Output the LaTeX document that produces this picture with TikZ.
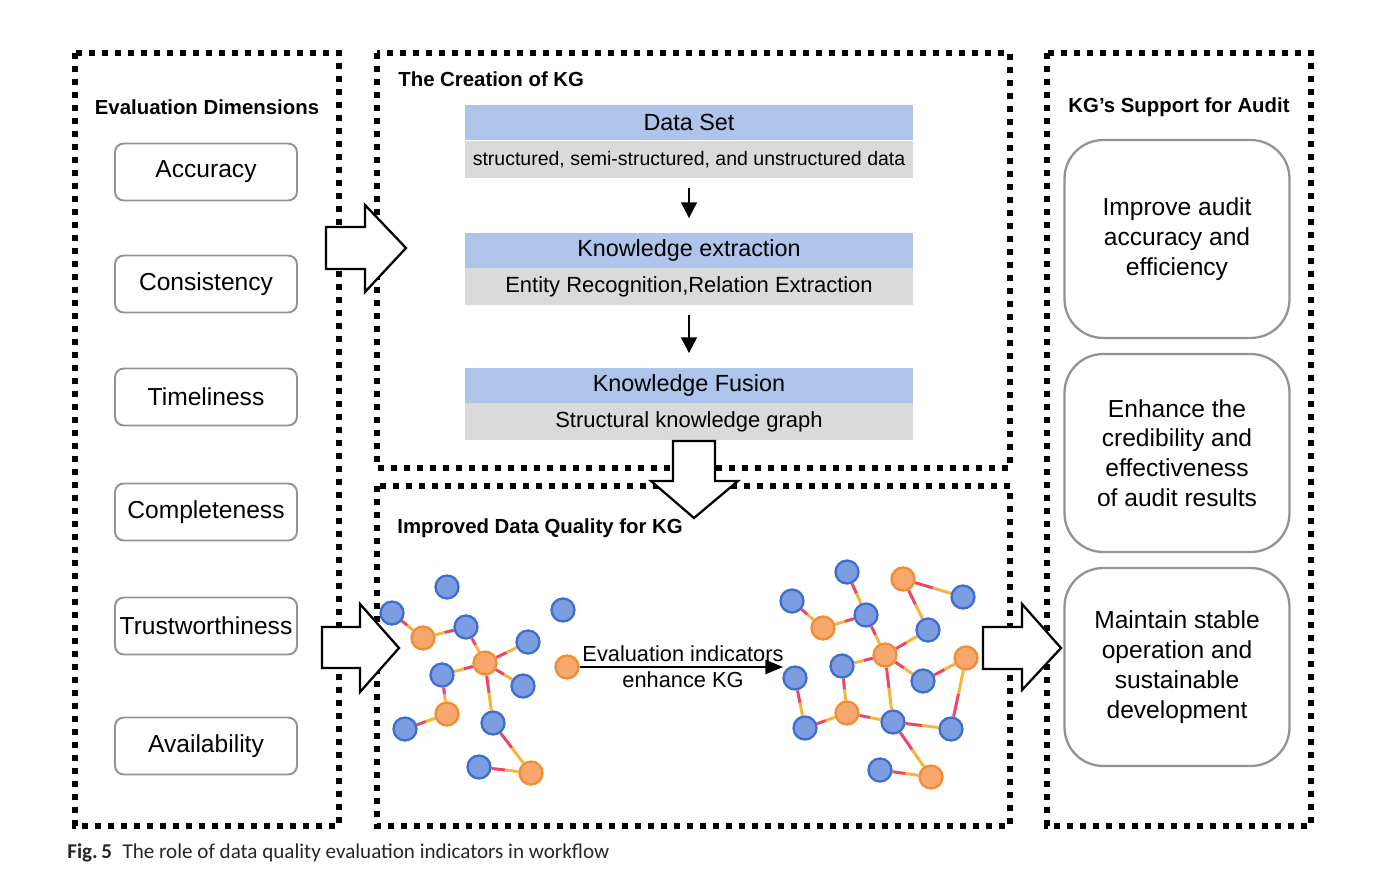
\documentclass[tikz,border=0pt]{standalone}
\usepackage{fontspec}
\setmainfont{Liberation Sans}
\newfontfamily\capfont{Carlito}
\usepackage{tikz}
\usetikzlibrary{arrows.meta,calc,positioning,backgrounds}

\definecolor{bandblue}{HTML}{AFC4EA}
\definecolor{bandgray}{HTML}{DADADA}
\definecolor{kgblue}{HTML}{7C9DE0}
\definecolor{kgblueline}{HTML}{3C6ED2}
\definecolor{kgorange}{HTML}{F8A86E}
\definecolor{kgorangeline}{HTML}{F08C32}
\definecolor{edgered}{HTML}{EE4565}
\definecolor{edgeamber}{HTML}{F6B43A}

\tikzset{
  frame/.style={line width=3.5pt, dash pattern=on 3.5pt off 3.9pt},
  paneltitle/.style={font=\fontsize{11.6}{14}\selectfont\bfseries, inner sep=0pt},
  dimbox/.style={draw=gray!85, rounded corners=5pt, line width=1.1pt, inner sep=1pt,
    minimum width=3.64cm, minimum height=1.14cm, font=\fontsize{14}{17}\selectfont},
  supbox/.style={draw=gray!85, rounded corners=22pt, line width=1.3pt, align=center,
    minimum width=4.5cm, minimum height=3.96cm, font=\fontsize{14}{17}\selectfont},
  headband/.style={fill=bandblue, minimum width=8.96cm, minimum height=0.7cm, inner sep=0pt,
    font=\fontsize{13.3}{16}\selectfont},
  subband/.style={fill=bandgray, minimum width=8.96cm, minimum height=0.74cm, inner sep=0pt,
    font=\fontsize{12.5}{15}\selectfont},
  bnode/.style={circle, fill=kgblue, draw=kgblueline, line width=1.3pt, minimum size=0.46cm, inner sep=0pt},
  onode/.style={circle, fill=kgorange, draw=kgorangeline, line width=1.3pt, minimum size=0.46cm, inner sep=0pt},
  hollow/.style={draw, line width=1.3pt, fill=white, line join=miter},
  smallarrow/.style={-{Triangle[length=9pt,width=9pt]}, line width=1.1pt, shorten <=5.5pt, shorten >=8pt},
}

% edge of the graph: red half, amber half
\newcommand{\kgedge}[2]{%
  \draw[edgered, line width=1.7pt] (#1) -- ($(#1)!0.5!(#2)$);
  \draw[edgeamber, line width=1.7pt] ($(#1)!0.5!(#2)$) -- (#2);}

\begin{document}
\begin{tikzpicture}[x=0.02cm, y=-0.02cm]
  \useasboundingbox (0,0) rectangle (1386,893);

  % Dotted panels
  \draw[frame] (75,53) rectangle (339,826);
  \draw[frame] (377,53) rectangle (1010,468);
  \draw[frame] (377,486) rectangle (1010,826);
  \draw[frame] (1047,53) rectangle (1311,826);

  % Left panel: evaluation dimensions
  \node[paneltitle] (dimtitle) at (207,107) {Evaluation Dimensions};
  \node[dimbox] (acc) at (206,172) {Accuracy};
  \node[dimbox] (con) at (206,284) {Consistency};
  \node[dimbox] (tim) at (206,397) {Timeliness};
  \node[dimbox] (com) at (206,512) {Completeness};
  \node[dimbox] (tru) at (206,626) {Trustworthiness};
  \node[dimbox] (ava) at (206,746) {Availability};

  % Middle top panel: creation of the KG
  \node[paneltitle, anchor=west] (createtitle) at (398,79) {The Creation of KG};
  \node[headband] (dsh) at (689,122.5) {Data Set};
  \node[subband, below=0pt of dsh, font=\fontsize{11.1}{13}\selectfont] (dsb)
    {structured, semi-structured, and unstructured data};
  \node[headband] (keh) at (689,250) {Knowledge extraction};
  \node[subband, below=0pt of keh] (keb) {Entity Recognition,Relation Extraction};
  \node[headband] (kfh) at (689,385) {Knowledge Fusion};
  \node[subband, below=0pt of kfh] (kfb) {Structural knowledge graph};
  \draw[smallarrow] (dsb.south) -- (keh.north);
  \draw[smallarrow] (keb.south) -- (kfh.north);

  % Middle bottom panel: improved data quality
  \node[paneltitle, anchor=west] (qualtitle) at (397,528) {Improved Data Quality for KG};
  % graph before
  \node[bnode] (a1) at (447,587) {};
  \node[bnode] (a2) at (392,613) {};
  \node[onode] (a3) at (423,638) {};
  \node[bnode] (a4) at (466,627) {};
  \node[bnode] (a5) at (563,610) {};
  \node[bnode] (a6) at (528,642) {};
  \node[onode] (a7) at (485,663) {};
  \node[bnode] (a8) at (442,675) {};
  \node[bnode] (a9) at (523,686) {};
  \node[onode] (a10) at (447,714) {};
  \node[bnode] (a11) at (405,729) {};
  \node[bnode] (a12) at (493,723) {};
  \node[bnode] (a13) at (479,767) {};
  \node[onode] (a14) at (531,773) {};
  \node[onode] (a15) at (567,667) {};
  % graph after
  \node[bnode] (b1) at (847,572) {};
  \node[onode] (b2) at (903,579) {};
  \node[bnode] (b3) at (792,601) {};
  \node[bnode] (b4) at (963,597) {};
  \node[bnode] (b5) at (866,615) {};
  \node[onode] (b6) at (823,628) {};
  \node[bnode] (b7) at (928,630) {};
  \node[onode] (b8) at (885,655) {};
  \node[bnode] (b9) at (842,666) {};
  \node[onode] (b10) at (966,658) {};
  \node[bnode] (b11) at (795,678) {};
  \node[bnode] (b12) at (923,681) {};
  \node[onode] (b13) at (847,713) {};
  \node[bnode] (b14) at (893,722) {};
  \node[bnode] (b15) at (805,728) {};
  \node[bnode] (b16) at (951,729) {};
  \node[bnode] (b17) at (880,770) {};
  \node[onode] (b18) at (931,777) {};
  \begin{scope}[on background layer]
    \kgedge{a2}{a3} \kgedge{a4}{a3} \kgedge{a4}{a7} \kgedge{a7}{a6}
    \kgedge{a7}{a8} \kgedge{a7}{a9} \kgedge{a7}{a12} \kgedge{a8}{a10}
    \kgedge{a11}{a10} \kgedge{a12}{a14} \kgedge{a13}{a14}
    \kgedge{b3}{b6} \kgedge{b5}{b6} \kgedge{b1}{b5} \kgedge{b5}{b8}
    \kgedge{b2}{b4} \kgedge{b2}{b7} \kgedge{b8}{b7} \kgedge{b8}{b9}
    \kgedge{b8}{b12} \kgedge{b8}{b14} \kgedge{b12}{b10} \kgedge{b16}{b10}
    \kgedge{b9}{b13} \kgedge{b11}{b15} \kgedge{b15}{b13} \kgedge{b13}{b14}
    \kgedge{b14}{b16} \kgedge{b14}{b18} \kgedge{b17}{b18}
  \end{scope}
  \coordinate (evtip) at (783,667);
  \draw[-{Triangle[length=10pt,width=8pt]}, line width=1.1pt] (a15) -- (evtip);
  \node[align=center, font=\fontsize{12.4}{15}\selectfont, inner sep=0pt] (evtext) at (683,667)
    {Evaluation indicators\\enhance KG};

  % Right panel: support for audit
  \node[paneltitle] (audittitle) at (1179,107) {KG’s Support for Audit};
  \node[supbox] (imp) at (1177,239) {Improve audit\\accuracy and\\efficiency};
  \node[supbox] (enh) at (1177,453) {Enhance the\\credibility and\\effectiveness\\of audit results};
  \node[supbox] (mai) at (1177,667) {Maintain stable\\operation and\\sustainable\\development};

  % Hollow block arrows between panels
  \draw[hollow] (326,227) -- (365,227) -- (365,205) -- (406,248) -- (365,292) -- (365,269) -- (326,269) -- cycle;
  \draw[hollow] (322,627) -- (360,627) -- (360,604) -- (399,648) -- (360,692) -- (360,668) -- (322,668) -- cycle;
  \draw[hollow] (983,627) -- (1022,627) -- (1022,604) -- (1061,648) -- (1022,690) -- (1022,669) -- (983,669) -- cycle;
  \draw[hollow] (673,441) -- (715,441) -- (715,481) -- (738,481) -- (694,518) -- (651,481) -- (673,481) -- cycle;

  % Caption
  \node[anchor=base west, inner sep=0pt, text=black!85, font=\capfont\fontsize{12}{14}\selectfont] (cap) at (67,858)
    {\textbf{Fig.\,5}\enspace The role of data quality evaluation indicators in workflow};
\end{tikzpicture}
\end{document}
